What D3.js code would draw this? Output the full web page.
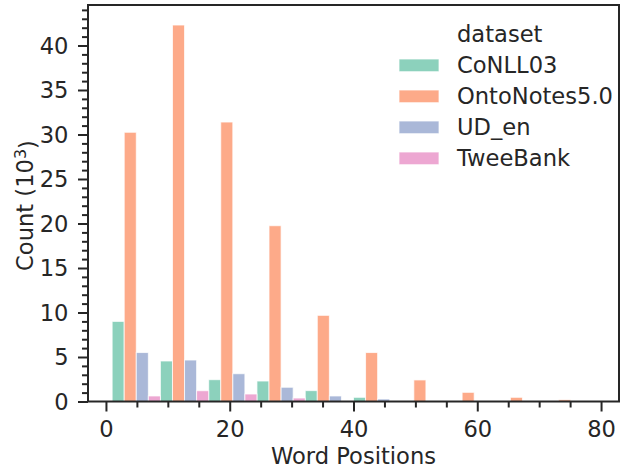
<!DOCTYPE html>
<html><head><meta charset="utf-8">
<script src="https://cdn.jsdelivr.net/npm/d3@7"></script>
<style>
html,body{margin:0;padding:0;background:#fff;}
text{font-family:"DejaVu Sans",sans-serif;fill:#262626;}
</style></head>
<body>
<svg id="c" width="620" height="469"></svg>
<script>
const datasets = ["CoNLL03", "OntoNotes5.0", "UD_en", "TweeBank"];
const colors = ["#66c2a5", "#fc8d62", "#8da0cb", "#e78ac3"];
const binEdges = [1, 8.8, 16.6, 24.4, 32.2, 40, 47.8, 55.6, 63.4, 71.2, 79];
// counts in thousands per bin
const conll = [9.0, 4.55, 2.45, 2.3, 1.22, 0.47, 0.0, 0.0, 0.0, 0.0];
const onto = [30.25, 42.3, 31.4, 19.75, 9.68, 5.5, 2.42, 1.03, 0.47, 0.2];
const ud = [5.5, 4.66, 3.12, 1.6, 0.62, 0.28, 0.0, 0.0, 0.0, 0.0];
const twee = [0.62, 1.21, 0.84, 0.39, 0.05, 0.0, 0.0, 0.0, 0.0, 0.0];
const series = [conll, onto, ud, twee];
const xTicks = [0, 20, 40, 60, 80];
const yTicks = [0, 5, 10, 15, 20, 25, 30, 35, 40];

const FS = "22.6px";
const svg = d3.select("#c");
const L = 88, R = 619, T = 5, B = 401.5;
const x = d3.scaleLinear().domain([-2.9, 82.9]).range([L, R]);
const y = d3.scaleLinear().domain([0, 44.55]).range([B, T]);

// bars
const g = svg.append("g");
series.forEach((vals, j) => {
  g.selectAll(null).data(vals).enter().append("rect")
    .attr("x", (d, i) => {
      const w = (binEdges[i + 1] - binEdges[i]) / datasets.length;
      return x(binEdges[i] + j * w);
    })
    .attr("width", (d, i) => {
      const w = (binEdges[i + 1] - binEdges[i]) / datasets.length;
      return x(binEdges[i] + (j + 1) * w) - x(binEdges[i] + j * w);
    })
    .attr("y", d => y(d))
    .attr("height", d => B - y(d))
    .attr("fill", colors[j]).attr("fill-opacity", 0.75)
    .attr("stroke", d => d > 0 ? "#fff" : "none").attr("stroke-opacity", 0.75).attr("stroke-width", 1);
});

// axes
const xAxis = svg.append("g").attr("transform", `translate(0,${B})`)
  .call(d3.axisBottom(x).tickValues(xTicks).tickFormat(d3.format("d")).tickSize(10).tickPadding(6));
const xMinor = svg.append("g").attr("transform", `translate(0,${B})`)
  .call(d3.axisBottom(x).tickValues(d3.range(0, 81, 5).filter(v => v % 20 !== 0)).tickFormat("").tickSize(6));
const yAxis = svg.append("g").attr("transform", `translate(${L},0)`)
  .call(d3.axisLeft(y).tickValues(yTicks).tickFormat(d3.format("d")).tickSize(10).tickPadding(8));
const yMinor = svg.append("g").attr("transform", `translate(${L},0)`)
  .call(d3.axisLeft(y).tickValues(d3.range(0, 45, 1).filter(v => v % 5 !== 0)).tickFormat("").tickSize(6));
[xAxis, xMinor, yAxis, yMinor].forEach(a => {
  a.select(".domain").remove();
  a.selectAll("line").attr("stroke", "#262626").attr("stroke-width", 2);
  a.selectAll("text").style("font-size", FS).attr("fill", "#262626");
});
xAxis.selectAll("text").attr("y", 35).attr("dy", 0);
yAxis.selectAll("text").attr("x", -19.5).attr("dy", "0.34em");

// frame
svg.append("rect").attr("x", L).attr("y", T).attr("width", R - L).attr("height", B - T)
  .attr("fill", "none").attr("stroke", "#262626").attr("stroke-width", 2);

// labels
svg.append("text").attr("x", (L + R) / 2).attr("y", 464.3).attr("text-anchor", "middle")
  .style("font-size", FS).text("Word Positions");
const yl = svg.append("text").attr("transform", `translate(33,205.5) rotate(-90)`)
  .attr("text-anchor", "middle").style("font-size", FS);
yl.append("tspan").text("Count (10");
yl.append("tspan").attr("dy", "-0.42em").style("font-size", "16px").text("3");
yl.append("tspan").attr("dy", "0.42em").text(")");

// legend
const lg = svg.append("g");
lg.append("text").attr("x", 457).attr("y", 42.3).style("font-size", FS).text("dataset");
datasets.forEach((name, j) => {
  const cy = 65.3 + j * 31;
  lg.append("rect").attr("x", 399).attr("y", cy - 6.3).attr("width", 40).attr("height", 12.7)
    .attr("fill", colors[j]).attr("fill-opacity", 0.75).attr("stroke", "#fff").attr("stroke-opacity", 0.75);
  lg.append("text").attr("x", 457).attr("y", cy + 7.9).style("font-size", FS).text(name);
});
</script>
</body></html>
